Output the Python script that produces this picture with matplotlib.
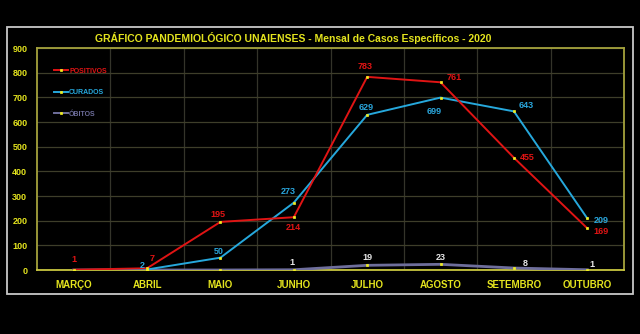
import matplotlib.pyplot as plt
from matplotlib.patches import Rectangle
from matplotlib.lines import Line2D

plt.rcParams['font.family'] = ['Liberation Sans', 'DejaVu Sans']
plt.rcParams['font.weight'] = 'bold'

# monthly counts
meses = ["MARÇO", "ABRIL", "MAIO", "JUNHO", "JULHO", "AGOSTO", "SETEMBRO", "OUTUBRO"]
positivos = [1, 7, 195, 214, 783, 761, 455, 169]
curados = [0, 2, 50, 273, 629, 699, 643, 209]
obitos = [0, 0, 0, 1, 19, 23, 8, 1]

# which points get a value label, and where (offset in px, horizontal align)
lbl_pos = [(0, 10, 'center'), (5, 10, 'center'), (-3, 7, 'center'), (0, -10, 'center'),
           (-2, 10, 'center'), (6, 5, 'left'), (6, 0, 'left'), (6, -3, 'left')]
lbl_cur = [None, (-5, 4, 'center'), (-2, 6, 'center'), (-6, 11, 'center'),
           (-1, 7, 'center'), (-6, -14, 'center'), (12, 6, 'center'), (6, -2, 'left')]
lbl_obi = [None, None, None, (-2, 7, 'center'), (0, 8, 'center'), (0, 7, 'center'),
           (11, 5, 'center'), (5, 5, 'center')]

c_pos = '#e01414'
c_cur = '#26a8dc'
c_obi = '#6e6e9c'
c_mk = '#f2f020'
c_txt = '#e4e41e'
mk = dict(marker='s', ms=1.7, mfc=c_mk, mec=c_mk, mew=0.5)

fig = plt.figure(figsize=(6.4, 3.34), dpi=100, facecolor='black')
fig.patches.append(Rectangle((7/640, 1-294/334), 626/640, 267/334, transform=fig.transFigure,
                             fill=False, edgecolor='#c8c8c8', linewidth=1.3))
ax = fig.add_axes([37/640, 1-270/334, 587/640, 222/334], facecolor='black')

x = list(range(len(meses)))
ax.plot(x, obitos, color=c_obi, lw=2.0, label='ÓBITOS', zorder=3, **mk)
ax.plot(x, curados, color=c_cur, lw=1.4, label='CURADOS', zorder=4, **mk)
ax.plot(x, positivos, color=c_pos, lw=1.4, label='POSITIVOS', zorder=5, **mk)

for vals, offs, col in [(positivos, lbl_pos, '#e01414'), (curados, lbl_cur, '#2aa6dc'),
                        (obitos, lbl_obi, '#e8e8e8')]:
    for i, v in enumerate(vals):
        if offs[i] is None:
            continue
        dx, dy, ha = offs[i]
        ax.annotate(str(v), (i, v), xytext=(dx * 0.72, dy * 0.72), textcoords='offset points',
                    ha=ha, va='center', fontsize=6.5, color=col, fontweight='bold', zorder=6)

ax.set_xlim(-0.5, 7.5)
ax.set_ylim(0, 900)
ax.set_yticks(range(0, 1000, 100))
ax.set_xticks(x)
ax.set_xticklabels(meses)
ax.set_xticks([i + 0.5 for i in range(7)], minor=True)
ax.tick_params(axis='both', which='both', length=0, colors=c_txt, labelsize=6.5)
ax.tick_params(axis='y', pad=7)
ax.tick_params(axis='x', pad=7, labelsize=7)
ax.grid(axis='y', which='major', color='#3e3e2a', lw=0.9)
ax.grid(axis='x', which='minor', color='#34342a', lw=0.9)
for s in ax.spines.values():
    s.set_color('#a4a23c')
    s.set_linewidth(1.3)
ax.spines['bottom'].set_color('#c8c640')

handles = [Line2D([], [], color=c, lw=1.4, **mk) for c in (c_pos, c_cur, c_obi)]
ax.legend(handles, ['POSITIVOS', 'CURADOS', 'ÓBITOS'], loc='upper left',
          bbox_to_anchor=(0.018, 0.94), frameon=False, fontsize=5, handlelength=2.0,
          handletextpad=0.2, labelspacing=2.1, labelcolor=[c_pos, c_cur, c_obi])

fig.text(293/640, 1-38/334, "GRÁFICO PANDEMIOLÓGICO UNAIENSES - Mensal de Casos Específicos - 2020",
         ha='center', va='center', color=c_txt, fontsize=7.5, fontweight='bold')

fig.savefig('out.png', dpi=100, facecolor='black')
